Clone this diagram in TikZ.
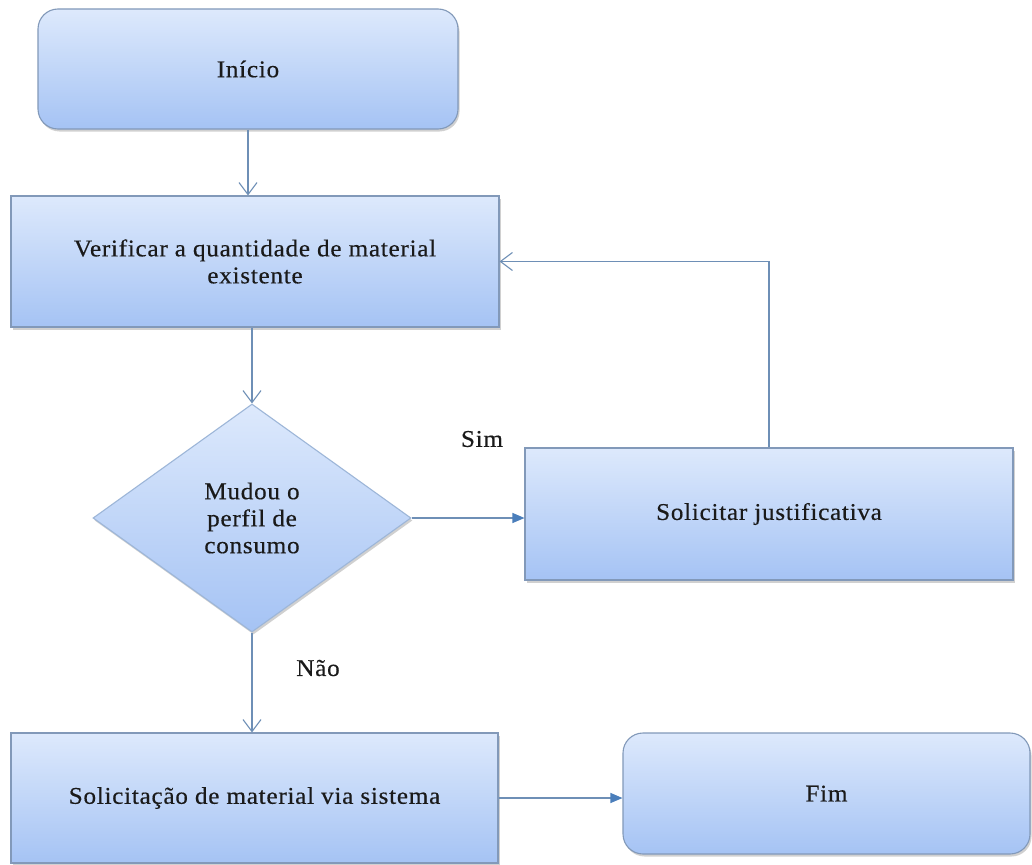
\documentclass[tikz,border=0pt]{standalone}
\usepackage{fontspec}
\setmainfont{Liberation Serif}[FakeStretch=1.05,LetterSpace=3,FakeBold=0.4]
\usetikzlibrary{shapes.geometric,arrows.meta,shadows}
\definecolor{boxtop}{HTML}{DDE9FC}
\definecolor{boxbot}{HTML}{A5C3F4}
\definecolor{boxline}{HTML}{8299B9}
\definecolor{decline}{HTML}{9DB6D8}
\definecolor{conn}{HTML}{6E8FB6}
\definecolor{connhead}{HTML}{4A7EBB}
\definecolor{txt}{HTML}{1A1A1A}
\begin{document}
\begin{tikzpicture}[x=1pt,y=-1pt,
  every node/.style={font=\fontsize{24}{27}\selectfont, text=txt},
  boxbase/.style={draw=boxline, line width=1.1pt, top color=boxtop, bottom color=boxbot,
    align=center, inner sep=0pt,
    drop shadow={shadow xshift=1.5pt, shadow yshift=-2.5pt, opacity=0.3, fill=black!60}},
  termbox/.style={boxbase, rectangle, rounded corners=20pt},
  procbox/.style={boxbase, rectangle},
  decbox/.style={boxbase, diamond, draw=decline, font=\fontsize{24}{27}\selectfont},
  openarrow/.style={draw=conn, line width=1.1pt, -{Straight Barb[length=12pt,width=18pt,line width=1.1pt]}},
  filledarrow/.style={draw=conn, line width=1.1pt, -{Triangle[length=12pt,width=10pt,color=connhead,fill=connhead]}},
  lbl/.style={font=\fontsize{24}{27}\selectfont}
]
\fill[white] (0,0) rectangle (1032,864);
\useasboundingbox (0,0) rectangle (1032,864);

\node[termbox, minimum width=420pt, minimum height=120pt] (inicio) at (248,69) {Início};
\node[procbox, minimum width=488pt, minimum height=131pt] (verif) at (255,261.5) {Verificar a quantidade de material\\existente};
\node[decbox, minimum width=318pt, minimum height=228pt] (dec) at (252,518) {Mudou o\\perfil de\\consumo};
\node[procbox, minimum width=488pt, minimum height=132pt] (just) at (769,514) {Solicitar justificativa};
\node[procbox, minimum width=487pt, minimum height=130pt] (sol) at (254.5,798) {Solicitação de material via sistema};
\node[termbox, minimum width=407pt, minimum height=121pt] (fim) at (826.5,793.5) {Fim};
\node[lbl] (sim) at (482,439) {Sim};
\node[lbl] (nao) at (318,668) {Não};

\draw[openarrow] (inicio.south) -- (inicio.south |- verif.north);
\draw[openarrow] (verif.south -| dec.north) -- (dec.north);
\draw[filledarrow] (dec.east) -- (dec.east -| just.west);
\draw[openarrow] (just.north) |- (verif.east);
\draw[openarrow] (dec.south) -- (dec.south |- sol.north);
\draw[filledarrow] (sol.east) -- (sol.east -| fim.west);
\end{tikzpicture}
\end{document}
